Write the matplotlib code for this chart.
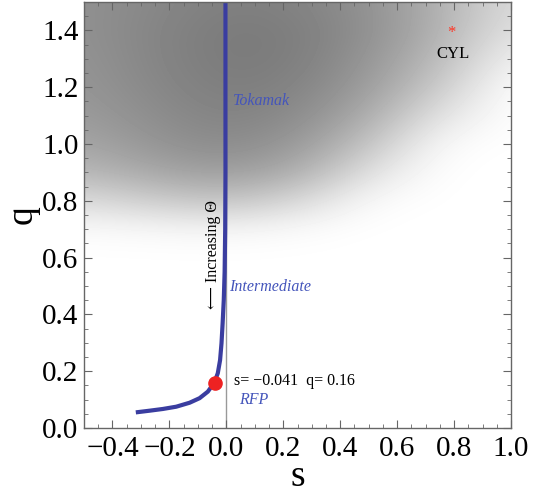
import numpy as np
import matplotlib
matplotlib.use("Agg")
import matplotlib.pyplot as plt
from matplotlib.ticker import MultipleLocator, FuncFormatter

# curve s(q)
curve_s = [-0.318, -0.269, -0.223, -0.176, -0.129, -0.094, -0.065, -0.042, -0.030,
           -0.022, -0.017, -0.013, -0.009, -0.006, -0.004, -0.003, -0.003]
curve_q = [0.055, 0.061, 0.067, 0.075, 0.089, 0.105, 0.128, 0.160, 0.193,
           0.239, 0.298, 0.369, 0.451, 0.55, 0.70, 0.90, 1.5]
point_s, point_q = -0.041, 0.16
cyl_s, cyl_q = 0.79, 1.39

# background gray level (1 = white), nodes in s and q
bg_s = [-0.5, -0.25, 0.0, 0.25, 0.5, 0.75, 1.0]
bg_q = [0.5, 0.6, 0.7, 0.8, 0.9, 1.0, 1.1, 1.2, 1.3, 1.4, 1.5]
bg_gray = np.array([
    # s=-0.5 -0.25  0.0  0.25  0.5  0.75  1.0
    [1.00, 1.00, 1.00, 1.00, 1.00, 1.00, 1.00],  # q=0.5
    [1.00, 1.00, 1.00, 1.00, 1.00, 1.00, 1.00],  # 0.6
    [0.98, 0.97, 0.96, 0.98, 1.00, 1.00, 1.00],  # 0.7
    [0.86, 0.80, 0.76, 0.84, 0.98, 1.00, 1.00],  # 0.8
    [0.72, 0.65, 0.61, 0.67, 0.88, 1.00, 1.00],  # 0.9
    [0.65, 0.58, 0.54, 0.59, 0.76, 0.98, 1.00],  # 1.0
    [0.61, 0.55, 0.51, 0.54, 0.67, 0.89, 1.00],  # 1.1
    [0.59, 0.53, 0.49, 0.51, 0.61, 0.79, 1.00],  # 1.2
    [0.58, 0.52, 0.48, 0.49, 0.58, 0.73, 0.95],  # 1.3
    [0.57, 0.52, 0.48, 0.49, 0.56, 0.69, 0.89],  # 1.4
    [0.57, 0.53, 0.50, 0.51, 0.57, 0.69, 0.86],  # 1.5
])

plt.rcParams['font.family'] = ['Liberation Serif', 'DejaVu Serif']

fig = plt.figure(figsize=(5.4, 4.93), dpi=100)
ax = fig.add_axes([84/540, 1 - 428/493, 427/540, 426/493])

ds = bg_s[1] - bg_s[0]
dq = bg_q[1] - bg_q[0]
ax.imshow(bg_gray, cmap='gray', vmin=0, vmax=1, origin='lower', aspect='auto',
          interpolation='bicubic',
          extent=[bg_s[0] - ds/2, bg_s[-1] + ds/2, bg_q[0] - dq/2, bg_q[-1] + dq/2],
          zorder=0)

ax.axvline(0, color='#999999', lw=1.0, zorder=1)
ax.plot(curve_s, curve_q, color='#3a3da0', lw=3.0, solid_capstyle='butt', zorder=2)
ax.plot([point_s], [point_q], 'o', color='#ee2222', ms=9.5, zorder=3)
ax.text(cyl_s, cyl_q, '*', color='#ff3322', fontsize=12, ha='center', va='center', zorder=3)

blue = '#4455bb'
ax.text(0.022, 1.15, 'Tokamak', color=blue, fontsize=11.5, style='italic', va='center', ha='left')
ax.text(0.010, 0.497, 'Intermediate', color=blue, fontsize=11.5, style='italic', va='center', ha='left')
ax.text(0.046, 0.10, 'RFP', color=blue, fontsize=11.5, style='italic', va='center', ha='left')
ax.text(0.797, 1.318, 'CYL', color='black', fontsize=12, va='center', ha='center')
ax.text(0.027, 0.165, 's= \u22120.041  q= 0.16', color='black', fontsize=11.5, va='center', ha='left')
ax.text(-0.048, 0.61, '\u27f5 Increasing \u0398', color='black', fontsize=11.5,
        rotation=90, va='center', ha='center')

ax.set_xlim(-0.5, 1.0)
ax.set_ylim(0.0, 1.5)
ax.xaxis.set_major_locator(MultipleLocator(0.2))
ax.xaxis.set_minor_locator(MultipleLocator(0.05))
ax.yaxis.set_major_locator(MultipleLocator(0.2))
ax.yaxis.set_minor_locator(MultipleLocator(0.05))
ax.xaxis.set_major_formatter(FuncFormatter(lambda v, p: f'{v:.1f}'.replace('-', '\u2212')))
ax.yaxis.set_major_formatter(FuncFormatter(lambda v, p: f'{v:.1f}'))
ax.tick_params(which='both', direction='in', top=True, right=True, colors='#666666',
               labelcolor='black', labelsize=21)
ax.tick_params(which='major', length=6, width=0.8)
ax.tick_params(axis='x', which='major', pad=6)
ax.tick_params(axis='y', which='major', pad=4)
ax.tick_params(which='minor', length=3, width=0.6)
for sp in ax.spines.values():
    sp.set_color('#666666')
    sp.set_linewidth(1.0)

ax.set_xlabel('s', fontsize=27, labelpad=-2)
ax.set_ylabel('q', fontsize=27, labelpad=2)

fig.savefig('out.png', dpi=100)
